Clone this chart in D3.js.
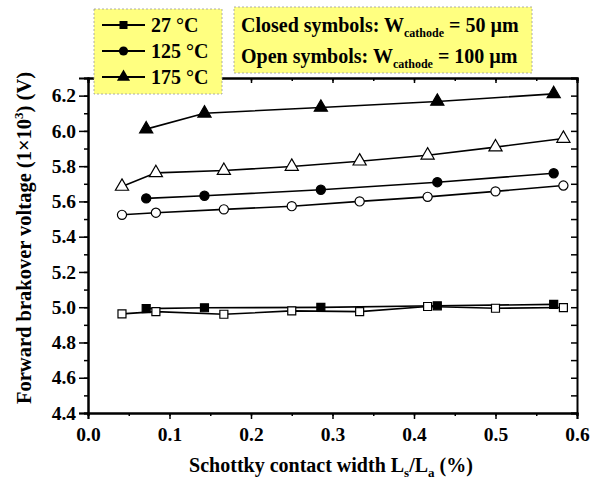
<html>
<head>
<script src="https://d3js.org/d3.v7.min.js"></script>
<style>
  body { margin: 0; background: #fff; }
  text { font-family: "Liberation Serif", "Times New Roman", serif; font-weight: bold; fill: #000; }
</style>
</head>
<body>
<svg id="chart" width="592" height="480"></svg>
<script>
// data
const xClosed = [0.0714, 0.1429, 0.2857, 0.4286, 0.5714];
const xOpen = [0.0417, 0.0833, 0.1667, 0.25, 0.3333, 0.4167, 0.5, 0.5833];

const closed27 = [4.992, 4.997, 4.999, 5.008, 5.016];
const open27 = [4.962, 4.975, 4.960, 4.979, 4.975, 5.004, 4.994, 4.998];
const closed125 = [5.617, 5.632, 5.666, 5.709, 5.760];
const open125 = [5.524, 5.536, 5.555, 5.573, 5.600, 5.626, 5.657, 5.690];
const closed175 = [6.01, 6.10, 6.133, 6.167, 6.21];
const open175 = [5.685, 5.762, 5.775, 5.798, 5.828, 5.862, 5.908, 5.957];

const legendLabels = ["27 °C", "125 °C", "175 °C"];
const xTicks = [0, 0.1, 0.2, 0.3, 0.4, 0.5, 0.6];
const yTicks = [4.4, 4.6, 4.8, 5.0, 5.2, 5.4, 5.6, 5.8, 6.0, 6.2];

const svg = d3.select("svg#chart");
const margin = {top: 78, right: 15, bottom: 67, left: 88};
const width = 592, height = 480;
const chartWidth = width - margin.left - margin.right;
const chartHeight = height - margin.top - margin.bottom;

const xScale = d3.scaleLinear().domain([0, 0.6]).range([0, chartWidth]);
const yScale = d3.scaleLinear().domain([4.4, 6.3]).range([chartHeight, 0]);

const chartArea = svg.append("g")
    .attr("transform", "translate(" + margin.left + "," + margin.top + ")");

// axes
const axisG = chartArea.append("g");
const minorX = d3.range(0, 0.601, 0.05);
const minorY = d3.range(4.4, 6.31, 0.1);

// bottom
axisG.append("g").attr("transform", "translate(0," + chartHeight + ")")
    .call(d3.axisBottom(xScale).tickValues(minorX).tickSize(3).tickFormat(""));
axisG.append("g").attr("class", "xaxis").attr("transform", "translate(0," + chartHeight + ")")
    .call(d3.axisBottom(xScale).tickValues(xTicks).tickSize(6).tickPadding(8).tickFormat(d3.format(".1f")));
// top (mirror, inward)
axisG.append("g")
    .call(d3.axisTop(xScale).tickValues(minorX).tickSize(-3).tickFormat(""));
axisG.append("g")
    .call(d3.axisTop(xScale).tickValues(xTicks).tickSize(-5).tickFormat(""));
// left
axisG.append("g")
    .call(d3.axisLeft(yScale).tickValues(minorY).tickSize(4).tickFormat(""));
axisG.append("g").attr("class", "yaxis")
    .call(d3.axisLeft(yScale).tickValues(yTicks).tickSize(9).tickPadding(3).tickFormat(d3.format(".1f")));
// right (mirror, inward)
axisG.append("g").attr("transform", "translate(" + chartWidth + ",0)")
    .call(d3.axisRight(yScale).tickValues(minorY).tickSize(-6).tickFormat(""));

axisG.selectAll(".domain").attr("stroke", "#000").attr("stroke-width", 2);
axisG.selectAll(".tick line").attr("stroke", "#000").attr("stroke-width", 1.5);
axisG.selectAll(".tick text")
    .style("font-family", "'Liberation Serif', serif")
    .style("font-weight", "bold")
    .style("font-size", "19.5px")
    .attr("fill", "#000");

// series
const series = [
  {x: xClosed, y: closed27, sym: d3.symbolSquare, size: 64, open: false},
  {x: xOpen, y: open27, sym: d3.symbolSquare, size: 64, open: true},
  {x: xClosed, y: closed125, sym: d3.symbolCircle, size: 66, open: false},
  {x: xOpen, y: open125, sym: d3.symbolCircle, size: 66, open: true},
  {x: xClosed, y: closed175, sym: d3.symbolTriangle, size: 75, open: false},
  {x: xOpen, y: open175, sym: d3.symbolTriangle, size: 75, open: true}
];

const line = d3.line().x(d => xScale(d[0])).y(d => yScale(d[1]));

series.forEach(s => {
  let pts = s.x.map((v, i) => [v, s.y[i]]);
  chartArea.append("path")
      .attr("d", line(pts))
      .attr("fill", "none")
      .attr("stroke", "#000")
      .attr("stroke-width", 1.6);
});
series.forEach(s => {
  let pts = s.x.map((v, i) => [v, s.y[i]]);
  chartArea.selectAll(null).data(pts).enter().append("path")
      .attr("transform", d => "translate(" + xScale(d[0]) + "," + yScale(d[1]) + ")")
      .attr("d", d3.symbol().type(s.sym).size(s.size))
      .attr("fill", s.open ? "#fff" : "#000")
      .attr("stroke", "#000")
      .attr("stroke-width", 1.2);
});

// axis titles
svg.append("text")
    .attr("x", 331)
    .attr("y", 472)
    .attr("text-anchor", "middle")
    .style("font-size", "20px")
    .html('Schottky contact width L<tspan dy="5" font-size="13px">s</tspan><tspan dy="-5">/L</tspan><tspan dy="5" font-size="13px">a</tspan><tspan dy="-5"> (%)</tspan>');

svg.append("text")
    .attr("transform", "translate(31,238) rotate(-90)")
    .attr("text-anchor", "middle")
    .style("font-size", "20.5px")
    .html('Forward brakover voltage (1×10<tspan dy="-8" font-size="13px">3</tspan><tspan dy="8">) (V)</tspan>');

// legend 1
const leg1 = svg.append("g").attr("transform", "translate(94,9)");
leg1.append("rect").attr("width", 128).attr("height", 85)
    .attr("fill", "#ffff80").attr("stroke", "#999").attr("stroke-width", 0.8)
    .attr("stroke-dasharray", "2,2");
const legSyms = [d3.symbolSquare, d3.symbolCircle, d3.symbolTriangle];
const legSizes = [64, 66, 75];
legendLabels.forEach((lab, i) => {
  let cy = 16 + i * 26;
  leg1.append("line").attr("x1", 8).attr("x2", 51).attr("y1", cy).attr("y2", cy)
      .attr("stroke", "#000").attr("stroke-width", 2);
  leg1.append("path").attr("transform", "translate(29.5," + cy + ")")
      .attr("d", d3.symbol().type(legSyms[i]).size(legSizes[i]))
      .attr("fill", "#000");
  leg1.append("text").attr("x", 57).attr("y", cy + 7)
      .style("font-size", "20px").text(lab);
});

// legend 2
const leg2 = svg.append("g").attr("transform", "translate(234,7)");
leg2.append("rect").attr("width", 298).attr("height", 66)
    .attr("fill", "#ffff80").attr("stroke", "#999").attr("stroke-width", 0.8)
    .attr("stroke-dasharray", "2,2");
leg2.append("text").attr("x", 7).attr("y", 25).style("font-size", "20px")
    .html('Closed symbols: W<tspan dy="5" font-size="12px">cathode</tspan><tspan dy="-5"> = 50 µm</tspan>');
leg2.append("text").attr("x", 7).attr("y", 56).style("font-size", "20px")
    .html('Open symbols: W<tspan dy="5" font-size="12px">cathode</tspan><tspan dy="-5"> = 100 µm</tspan>');
</script>
</body>
</html>
